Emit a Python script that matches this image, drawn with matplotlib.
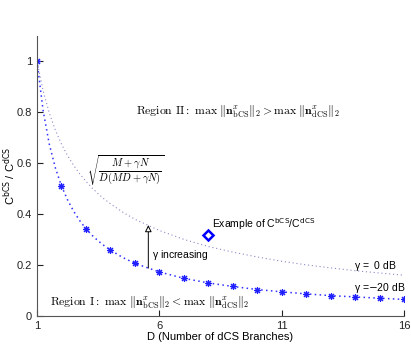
import matplotlib
matplotlib.use("Agg")
import matplotlib.pyplot as plt

plt.rcParams['font.family'] = ['Liberation Sans', 'DejaVu Sans']

# Datos
D_fine = [1, 1.25, 1.5, 1.75, 2, 2.25, 2.5, 2.75, 3, 3.25, 3.5, 3.75, 4, 4.5, 5,
          6, 7, 8, 9, 10, 11, 12, 13, 14, 15, 16]
ratio_m20dB = [1.000, 0.807, 0.676, 0.582, 0.511, 0.456, 0.411, 0.374, 0.343, 0.317,
               0.295, 0.276, 0.259, 0.230, 0.207, 0.173, 0.148, 0.130, 0.116, 0.104,
               0.095, 0.087, 0.080, 0.075, 0.070, 0.065]
ratio_0dB = [1.000, 0.884, 0.798, 0.730, 0.675, 0.630, 0.591, 0.558, 0.529, 0.503,
             0.480, 0.459, 0.441, 0.408, 0.380, 0.336, 0.301, 0.273, 0.251, 0.232,
             0.215, 0.201, 0.189, 0.178, 0.169, 0.160]
example_D = [8]
example_ratio = [0.32]

star_idx = [i for i, d in enumerate(D_fine) if float(d).is_integer()]

fig = plt.figure(figsize=(4.11, 3.45), dpi=100)
ax = fig.add_axes([0.09, 0.084, 0.893, 0.812])

ax.plot(D_fine, ratio_0dB, linestyle=(0, (1, 2.5)), color='#8a8ac8', linewidth=0.8)
ax.plot(D_fine, ratio_m20dB, linestyle=(0, (1, 2.2)), color='#3030ff', linewidth=1.1,
        marker=(8, 2, 0), markevery=star_idx, markersize=5, markeredgewidth=0.8,
        markeredgecolor='#2020ff')
ax.plot(example_D, example_ratio, linestyle='none', marker='D', markersize=5,
        markerfacecolor='white', markeredgecolor='#0000ff', markeredgewidth=1.8)

ax.set_xlim(1, 16)
ax.set_ylim(0, 1.1)
ax.set_xticks([1, 6, 11, 16])
ax.set_yticks([0, 0.2, 0.4, 0.6, 0.8, 1])
ax.set_yticklabels(['0', '0.2', '0.4', '0.6', '0.8', '1'])
ax.tick_params(direction='in', length=4, labelsize=8, colors='#222222')
for s in ['top', 'right']:
    ax.spines[s].set_visible(False)
for s in ['left', 'bottom']:
    ax.spines[s].set_color('#555555')

ax.set_xlabel('D (Number of dCS Branches)', fontsize=8, labelpad=1)
ax.set_ylabel(r'C$^{\rm bCS}$ / C$^{\rm dCS}$', fontsize=8,
              math_fontfamily='dejavusans')
ax.yaxis.set_label_coords(-0.052, 0.5)

ax.text(9.2, 0.8, r'$\mathrm{Region\ II:}\ \max\ \Vert\mathbf{n}^x_{\mathrm{bCS}}\Vert_2 > \max\ \Vert\mathbf{n}^x_{\mathrm{dCS}}\Vert_2$',
        ha='center', va='center', fontsize=8.5, math_fontfamily='cm')
ax.text(5.6, 0.05, r'$\mathrm{Region\ I:}\ \max\ \Vert\mathbf{n}^x_{\mathrm{bCS}}\Vert_2 < \max\ \Vert\mathbf{n}^x_{\mathrm{dCS}}\Vert_2$',
        ha='center', va='center', fontsize=8.5, math_fontfamily='cm')
ax.text(3.05, 0.57, r'$\sqrt{\dfrac{M+\gamma N}{D(MD+\gamma N)}}$',
        ha='left', va='center', fontsize=7.5, math_fontfamily='cm')

ax.annotate('', xy=(5.55, 0.357), xytext=(5.55, 0.188),
            arrowprops=dict(arrowstyle='-|>', fc='white', ec='black', lw=0.7,
                            mutation_scale=10, shrinkA=0, shrinkB=0))
ax.text(5.72, 0.24, r'$\mathregular{\gamma}$ increasing', ha='left', va='center', fontsize=7.5)
ax.text(8.15, 0.36, r'Example of C$^{\rm bCS}$/C$^{\rm dCS}$', ha='left', va='center',
        fontsize=7.5, math_fontfamily='dejavusans')
ax.text(13.95, 0.195, r'$\mathregular{\gamma}$ =  0 dB', ha='left', va='center', fontsize=7.5)
ax.text(13.95, 0.11, r'$\mathregular{\gamma}$ =$-$20 dB', ha='left', va='center', fontsize=7.5,
        math_fontfamily='dejavusans')

fig.savefig('out.png', dpi=100)
